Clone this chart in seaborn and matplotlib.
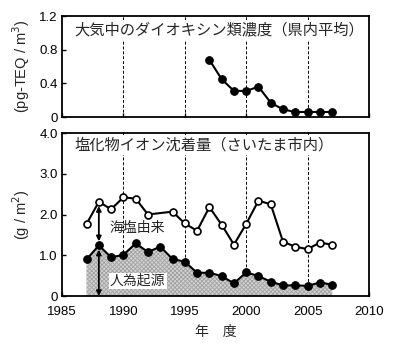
import numpy as np
import pandas as pd
import matplotlib
matplotlib.use("Agg")
import matplotlib.pyplot as plt
import matplotlib.transforms as mtransforms
import seaborn as sns

# Dioxin concentration in air (prefecture average), pg-TEQ/m3
dioxin_years = [1997, 1998, 1999, 2000, 2001, 2002, 2003, 2004, 2005, 2006, 2007]
dioxin_vals = [0.68, 0.45, 0.31, 0.31, 0.36, 0.17, 0.09, 0.06, 0.06, 0.06, 0.06]

# Chloride ion deposition (Saitama city), g/m2 -- total (no 1993 value)
total_years = [1987, 1988, 1989, 1990, 1991, 1992, 1994, 1995, 1996, 1997, 1998,
               1999, 2000, 2001, 2002, 2003, 2004, 2005, 2006, 2007]
total_vals = [1.77, 2.31, 2.13, 2.42, 2.39, 2.00, 2.07, 1.78, 1.60, 2.18, 1.75,
              1.26, 1.77, 2.34, 2.25, 1.33, 1.21, 1.15, 1.31, 1.26]

# Anthropogenic part of the chloride deposition
anthro_years = list(range(1987, 2008))
anthro_vals = [0.90, 1.24, 0.95, 1.01, 1.29, 1.08, 1.21, 0.91, 0.84, 0.57, 0.57,
               0.49, 0.31, 0.58, 0.49, 0.35, 0.26, 0.26, 0.25, 0.33, 0.28]

grid_years = [1990, 1995, 2000, 2005]
x_ticks = [1985, 1990, 1995, 2000, 2005, 2010]
top_ticks = [0, 0.4, 0.8, 1.2]
top_labels = ["0", "0.4", "0.8", "1.2"]
bot_ticks = [0, 1.0, 2.0, 3.0, 4.0]
bot_labels = ["0", "1.0", "2.0", "3.0", "4.0"]

sns.set_theme(style="ticks")
plt.rcParams["font.family"] = ["Liberation Sans", "Noto Sans CJK JP", "DejaVu Sans"]
plt.rcParams["hatch.linewidth"] = 0.6
jp = ["Noto Sans CJK JP", "DejaVu Sans"]

fig = plt.figure(figsize=(4.0, 3.46), dpi=100)
ax1 = fig.add_axes([0.155, 0.6618, 0.7675, 0.2919])
ax2 = fig.add_axes([0.155, 0.1445, 0.7675, 0.4711])

for ax in (ax1, ax2):
    ax.set_xlim(1985, 2010)
    for gx in grid_years:
        ax.axvline(gx, color="black", lw=0.7, ls=(0, (3, 2)), zorder=1)
    for s in ax.spines.values():
        s.set_linewidth(1.3)
        s.set_color("black")
        s.set_zorder(6)
    ax.tick_params(direction="in", length=3, width=1, colors="black",
                   labelsize=9.5, pad=3)
    ax.tick_params(axis="x", pad=7)

# top panel: dioxins
df_d = pd.DataFrame({"year": dioxin_years, "value": dioxin_vals})
sns.lineplot(data=df_d, x="year", y="value", ax=ax1, color="black", lw=1.5,
             marker="o", markersize=5.5, markeredgecolor="black", zorder=3)
ax1.set_ylim(0, 1.2)
ax1.set_yticks(top_ticks)
ax1.set_yticklabels(top_labels)
ax1.set_xticks(x_ticks)
ax1.set_xticklabels([])
ax1.set_xlabel("")
ax1.set_ylabel("(pg-TEQ / m$^3$)", fontsize=10.5, labelpad=5)
tt = mtransforms.blended_transform_factory(ax1.transData, ax1.transAxes)
ax1.text(1986.0, 0.86, "大気中のダイオキシン類濃度（県内平均）", transform=tt,
         fontsize=11, family=jp, va="center", ha="left", zorder=4,
         bbox=dict(facecolor="white", edgecolor="none", pad=1.0))

# bottom panel: chloride deposition
ax2.fill_between(anthro_years, 0, anthro_vals, facecolor="#d2d2d2",
                 edgecolor="#a2a2a2", hatch="xxxxxxxx", linewidth=0, zorder=1.5)
df_t = pd.DataFrame({"year": total_years, "value": total_vals})
df_a = pd.DataFrame({"year": anthro_years, "value": anthro_vals})
sns.lineplot(data=df_t, x="year", y="value", ax=ax2, color="black", lw=1.5,
             marker="o", markersize=5, markerfacecolor="white",
             markeredgecolor="black", markeredgewidth=1.2, zorder=3)
sns.lineplot(data=df_a, x="year", y="value", ax=ax2, color="black", lw=1.5,
             marker="o", markersize=5.5, markeredgecolor="black", zorder=3)
ax2.set_ylim(0, 4.0)
ax2.set_yticks(bot_ticks)
ax2.set_yticklabels(bot_labels)
ax2.set_xticks(x_ticks)
ax2.set_xlabel("年　度", fontsize=10, family=jp, labelpad=5)
ax2.set_ylabel("(g / m$^2$)", fontsize=10.5, labelpad=5)

bt = mtransforms.blended_transform_factory(ax2.transData, ax2.transAxes)
ax2.text(1986.0, 0.926, "塩化物イオン沈着量（さいたま市内）", transform=bt,
         fontsize=11, family=jp, va="center", ha="left", zorder=4,
         bbox=dict(facecolor="white", edgecolor="none", pad=1.0))

# arrows splitting the 1988 total into sea-salt and anthropogenic parts
x88 = 1988
t88 = total_vals[total_years.index(x88)]
a88 = anthro_vals[anthro_years.index(x88)]
ax2.annotate("", xy=(x88, t88), xytext=(x88, a88),
             arrowprops=dict(arrowstyle="<|-|>", color="black", lw=1.3,
                             shrinkA=3, shrinkB=3, mutation_scale=7), zorder=5)
ax2.annotate("", xy=(x88, a88), xytext=(x88, 0),
             arrowprops=dict(arrowstyle="<|-|>", color="black", lw=1.3,
                             shrinkA=0, shrinkB=3, mutation_scale=7), zorder=5)
ax2.text(1988.9, 1.67, "海塩由来", fontsize=10, family=jp, va="center",
         ha="left", zorder=4)
ax2.text(1988.9, 0.37, "人為起源", fontsize=10, family=jp, va="center",
         ha="left", zorder=4,
         bbox=dict(facecolor="white", edgecolor="none", pad=0.8))

fig.savefig("out.png", dpi=100)
